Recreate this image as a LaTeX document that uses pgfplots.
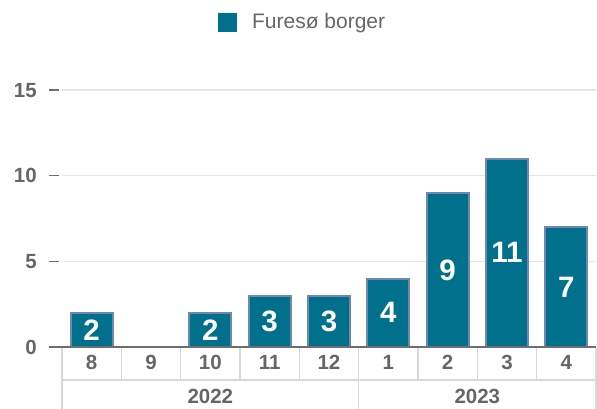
\documentclass[border=0pt]{standalone}
\usepackage{fontspec}
\setmainfont{Liberation Sans}
\usepackage{pgfplots}
\pgfplotsset{compat=1.18}
\definecolor{barfill}{HTML}{00708C}
\definecolor{barline}{HTML}{7088B0}
\definecolor{txt}{HTML}{666666}
\definecolor{gridc}{HTML}{E6E6E6}
\definecolor{sepc}{HTML}{D8D8D8}
\definecolor{axc}{HTML}{6E6E6E}
\begin{document}
\begin{tikzpicture}
\begin{axis}[
  name=ax,
  scale only axis,
  width=534pt, height=274pt,
  xmin=-0.5, xmax=8.5, ymin=0, ymax=16,
  clip=false,
  axis line style={draw=none},
  xtick={0,...,8},
  xticklabels={8,9,10,11,12,1,2,3,4},
  ytick={0,5,10,15},
  major tick length=0pt,
  tick style={draw=none},
  ymajorgrids, grid style={gridc, line width=1.3pt},
  /pgf/number format/assume math mode=true,
  ticklabel style={font=\fontsize{20.5}{24}\selectfont\bfseries, text=txt, inner sep=0pt},
  xticklabel style={anchor=center, yshift=-15pt},
  yticklabel style={anchor=east, xshift=-25pt},
  legend style={at={(0.292,1.186)}, anchor=west, draw=none, fill=none, inner sep=0pt,
    font=\fontsize{21}{25}\selectfont, text=txt, nodes={inner sep=0pt},
    /tikz/every odd column/.append style={column sep=15pt}},
  legend image code/.code={\fill[barfill] (0pt,-8.5pt) rectangle (17pt,8.5pt);},
]
\addplot[ybar, bar width=42pt, fill=barfill, draw=barline, line width=2pt,
  visualization depends on={y \as \rawy},
  nodes near coords,
  every node near coord/.append style={anchor=center, text=white,
    font=\fontsize{29.5}{32}\selectfont\bfseries, yshift={-8.5625pt*\rawy}},
  ] coordinates {(0,2) (2,2) (3,3) (4,3) (5,4) (6,9) (7,11) (8,7)};
\addlegendentry{Furesø borger}
% axis line and y ticks
\draw[axc, line width=1.5pt] ([xshift=-13pt]axis cs:-0.5,0) -- (axis cs:8.5,0);
\draw[axc, line width=1.3pt] ([xshift=-13pt]axis cs:-0.5,5) -- ([xshift=-3pt]axis cs:-0.5,5);
\draw[axc, line width=1.3pt] ([xshift=-13pt]axis cs:-0.5,10) -- ([xshift=-3pt]axis cs:-0.5,10);
\draw[axc, line width=1.3pt] ([xshift=-13pt]axis cs:-0.5,15) -- ([xshift=-3pt]axis cs:-0.5,15);
% category grid below axis
\draw[sepc, line width=1.3pt] ([yshift=-0.7pt]axis cs:0.5,0) -- ++(0pt,-33pt);
\draw[sepc, line width=1.3pt] ([yshift=-0.7pt]axis cs:1.5,0) -- ++(0pt,-33pt);
\draw[sepc, line width=1.3pt] ([yshift=-0.7pt]axis cs:2.5,0) -- ++(0pt,-33pt);
\draw[sepc, line width=1.3pt] ([yshift=-0.7pt]axis cs:3.5,0) -- ++(0pt,-33pt);
\draw[sepc, line width=1.3pt] ([yshift=-0.7pt]axis cs:5.5,0) -- ++(0pt,-33pt);
\draw[sepc, line width=1.3pt] ([yshift=-0.7pt]axis cs:6.5,0) -- ++(0pt,-33pt);
\draw[sepc, line width=1.3pt] ([yshift=-0.7pt]axis cs:7.5,0) -- ++(0pt,-33pt);
\draw[sepc, line width=1.3pt] ([yshift=-0.7pt]axis cs:-0.5,0) -- ++(0pt,-70pt);
\draw[sepc, line width=1.3pt] ([yshift=-0.7pt]axis cs:4.5,0) -- ++(0pt,-70pt);
\draw[sepc, line width=1.3pt] ([yshift=-0.7pt]axis cs:8.5,0) -- ++(0pt,-70pt);
\draw[sepc, line width=1.3pt] ([yshift=-33pt]axis cs:-0.5,0) -- ([yshift=-33pt]axis cs:8.5,0);
\node[anchor=center, text=txt, font=\fontsize{20.5}{24}\selectfont\bfseries, inner sep=0pt] at ([yshift=-49pt]axis cs:2,0) {2022};
\node[anchor=center, text=txt, font=\fontsize{20.5}{24}\selectfont\bfseries, inner sep=0pt] at ([yshift=-49pt]axis cs:6.5,0) {2023};
\end{axis}
\pgfresetboundingbox
\path ([shift={(-62pt,-61pt)}]ax.south west) rectangle ++(597pt,408pt);
\end{tikzpicture}
\end{document}
